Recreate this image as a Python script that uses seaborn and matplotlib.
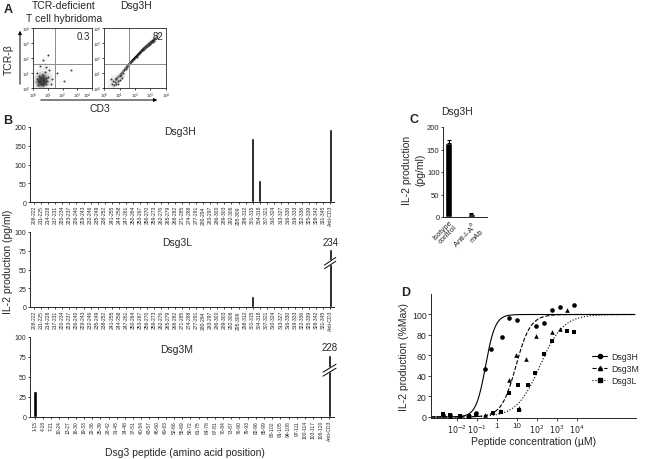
import numpy as np
import matplotlib
matplotlib.use("Agg")
import matplotlib.pyplot as plt
from matplotlib.lines import Line2D
import seaborn as sns

sns.set_style("ticks")
plt.rcParams["font.family"] = ["Liberation Sans", "DejaVu Sans"]
plt.rcParams["axes.linewidth"] = 0.7
plt.rcParams["xtick.major.width"] = 0.6
plt.rcParams["ytick.major.width"] = 0.6

# ---- panel A: flow cytometry (log10 units)
neg_x = [0.45, 0.55, 0.6, 0.65, 0.7, 0.5, 0.6, 0.75, 0.8, 0.4, 0.55, 0.65, 0.7, 0.6,
         0.5, 0.85, 0.95, 0.35, 0.6, 0.7, 1.1, 1.3, 0.3, 0.9, 1.6, 2.1, 0.5, 1.0,
         0.62, 0.58, 0.68, 0.52, 0.72, 0.66, 0.56, 0.48, 0.78, 0.62, 0.9, 0.25,
         1.2, 0.8, 0.4, 1.05, 2.6, 0.7]
neg_y = [0.35, 0.45, 0.3, 0.5, 0.4, 0.6, 0.7, 0.3, 0.55, 0.5, 0.25, 0.6, 0.2, 0.45,
         0.4, 0.7, 0.45, 0.2, 0.85, 0.9, 1.2, 0.6, 1.0, 1.4, 1.0, 0.5, 1.5, 2.2,
         0.42, 0.52, 0.48, 0.38, 0.58, 0.36, 0.62, 0.55, 0.42, 0.32, 0.3, 0.6,
         0.25, 1.1, 0.8, 0.75, 1.2, 1.9]
dsg_x = [0.5, 0.6, 0.7, 0.8, 0.9, 0.75, 0.65, 1.0, 1.1, 1.2, 1.3, 1.4, 1.5, 1.6, 1.7,
         1.8, 1.9, 2.0, 2.1, 2.2, 2.3, 2.4, 2.5, 2.6, 2.7, 2.8, 2.9, 3.0, 3.1, 3.15,
         3.2, 3.25, 2.6, 2.8, 3.0, 3.05, 0.9, 1.05, 0.45, 0.8, 1.15]
dsg_y = [0.3, 0.5, 0.4, 0.6, 0.5, 0.7, 0.2, 0.8, 0.9, 1.0, 1.2, 1.3, 1.4, 1.6, 1.7,
         1.8, 1.9, 2.0, 2.1, 2.2, 2.35, 2.45, 2.55, 2.6, 2.75, 2.85, 2.9, 3.0, 3.05, 3.1,
         3.15, 3.2, 2.7, 2.8, 2.95, 3.05, 0.3, 0.55, 0.6, 0.25, 0.7]
flow_pct = ["0.3", "82"]

# ---- panel B: IL-2 (pg/ml) per peptide
pep_h = ["208-222", "211-225", "214-228", "217-231", "220-234", "223-237", "226-240",
         "229-243", "232-246", "235-249", "238-252", "241-255", "244-258", "247-261",
         "250-264", "253-267", "256-270", "259-273", "262-276", "265-279", "268-282",
         "271-285", "274-288", "277-291", "280-294", "283-297", "286-300", "289-303",
         "292-306", "295-309", "298-312", "301-315", "304-318", "307-321", "310-324",
         "313-327", "316-330", "319-333", "322-336", "325-339", "328-342", "331-345",
         "Anti-CD3"]
dsg3h_il2 = [0, 0, 0, 0, 1.5, 0, 0, 0, 0, 0, 0, 0, 0, 1, 0, 0, 1, 0, 0, 0, 0, 0, 0, 0,
             0, 0, 0, 0, 0, 1, 3, 170, 60, 0, 0, 0, 0, 0, 0, 0, 0, 0, 195]
dsg3l_il2 = [0, 0, 0, 0, 0, 0, 0, 0, 1, 0, 0, 0, 0, 0, 0, 1, 0, 0, 0, 0, 1, 0, 0, 0,
             0.5, 0, 0, 0.5, 0, 0, 0, 15, 0.7, 0.5, 0, 0, 0.5, 0, 0, 0, 0, 0, 234]
pep_m = ["1-15", "4-18", "7-21", "10-24", "13-27", "16-30", "19-33", "22-36", "25-39",
         "28-42", "31-45", "34-48", "37-51", "40-54", "43-57", "46-60", "49-63", "52-66",
         "55-69", "58-72", "61-75", "64-78", "67-81", "70-84", "73-87", "76-90", "79-93",
         "82-96", "85-99", "88-102", "91-105", "94-108", "97-111", "100-114", "103-117",
         "106-120", "Anti-CD3"]
dsg3m_il2 = [32, 0, 0, 0, 0.5, 0, 0, 0, 0, 0, 0.5, 0, 0.5, 0, 0, 0, 0, 0, 0, 0, 0, 0, 0,
             0.5, 0, 0, 0, 0, 0, 0, 1, 0, 1, 0, 0, 0, 228]

# ---- panel C
c_labels = ["Isotype\ncontrol", "Anti-I-A$^b$\nmAb"]
c_values = [164, 7.5]
c_err = [8, 1]

# ---- panel D: dose response (log10 uM, %Max) and fitted EC50 / Hill slope
h_logc = [-2.7, -2.33, -1.83, -1.42, -1.03, -0.62, -0.28, 0.25, 0.62, 1.0, 1.97, 2.37, 2.75, 3.13, 3.87]
h_resp = [2, 2, 1, 1, 4, 47, 66, 78, 97, 95, 89, 92, 104, 107, 109]
m_logc = [-2.33, -1.42, -0.62, 0.17, 0.58, 0.97, 1.08, 1.47, 1.97, 2.75, 3.13, 3.5]
m_resp = [1, 1, 2, 6, 36, 60, 9, 57, 79, 83, 86, 104]
l_logc = [-2.7, -2.33, -1.83, -1.42, -1.03, -0.2, 0.2, 0.62, 1.03, 1.08, 1.53, 1.92, 2.33, 2.75, 3.5, 3.87]
l_resp = [3, 2, 1, 1, 2, 4, 5, 23, 31, 7, 31, 43, 61, 74, 84, 83]
fit_log_ec50 = {"Dsg3H": -0.57, "Dsg3M": 0.95, "Dsg3L": 2.15}
fit_hill = {"Dsg3H": 1.8, "Dsg3M": 1.2, "Dsg3L": 0.75}

W, H = 648, 460
fig = plt.figure(figsize=(W / 100, H / 100), dpi=100)


def box(l, t, r, b):
    return fig.add_axes([l / W, 1 - b / H, (r - l) / W, (b - t) / H])


def ftext(x, y, s, **kw):
    fig.text(x / W, 1 - y / H, s, **kw)


# ================= A
for k, (ax_box, xs, ys, gx, pct, bw) in enumerate([
    ((33, 29, 92, 89), neg_x, neg_y, 1.5, flow_pct[0], 1.0),
    ((104, 29, 166, 89), dsg_x, dsg_y, 1.6, flow_pct[1], 0.5),
]):
    ax = box(*ax_box)
    sns.kdeplot(x=xs, y=ys, fill=True, cmap="Greys", levels=10, thresh=0.03,
                bw_adjust=bw, ax=ax)
    sns.scatterplot(x=xs, y=ys, s=2, color="0.25", linewidth=0, ax=ax)
    ax.set_xlim(0, 4)
    ax.set_ylim(0, 4)
    ax.axvline(gx, color="0.55", lw=0.7)
    ax.axhline(1.6, color="0.55", lw=0.7)
    ax.set_xticks(range(5))
    ax.set_yticks(range(5))
    ax.set_xticklabels([f"$10^{i}$" for i in range(5)], fontsize=2.8)
    ax.set_yticklabels([f"$10^{i}$" for i in range(5)], fontsize=2.8)
    if k == 0:
        ax.get_xticklabels()[-1].set_horizontalalignment("right")
    ax.tick_params(length=1.2, pad=0.6)
    ax.set_xlabel("")
    ax.set_ylabel("")
    for sp in ax.spines.values():
        sp.set_linewidth(0.6)
    ax.text(0.96, 0.95, pct, transform=ax.transAxes, ha="right", va="top", fontsize=7)

ftext(64, 6, "TCR-deficient", ha="center", va="center", fontsize=7.5)
ftext(64, 19, "T cell hybridoma", ha="center", va="center", fontsize=7.5)
ftext(136, 6, "Dsg3H", ha="center", va="center", fontsize=7.5)
ftext(100, 109, "CD3", ha="center", va="center", fontsize=7.5)
ftext(9, 60, "TCR-β", ha="center", va="center", rotation=90, fontsize=7.5)
fig.add_artist(matplotlib.patches.FancyArrowPatch(
    (38 / W, 1 - 101 / H), (160 / W, 1 - 101 / H), transform=fig.transFigure,
    arrowstyle="-|>", mutation_scale=5, lw=0.7, color="k"))
fig.add_artist(matplotlib.patches.FancyArrowPatch(
    (20 / W, 1 - 88 / H), (20 / W, 1 - 29 / H), transform=fig.transFigure,
    arrowstyle="-|>", mutation_scale=5, lw=0.7, color="k"))


# ================= B
def peptide_panel(ax, labels, values, ymax, yticks, cap=None):
    shown = [min(v, cap) if cap else v for v in values]
    sns.barplot(x=labels, y=shown, color="black", width=0.45, saturation=1, ax=ax)
    n = len(labels)
    ax.set_xlim(-0.6, n - 0.45)
    ax.set_ylim(0, ymax)
    ax.set_yticks(yticks)
    ax.tick_params(axis="y", labelsize=5, length=1.5, pad=1)
    ax.tick_params(axis="x", labelsize=3.6, length=1.2, pad=1, rotation=90)
    sns.despine(ax=ax)
    if cap:
        i = n - 1
        yb = 0.56 * ymax
        dy = 0.05 * ymax
        ax.fill([i - 0.8, i + 0.8, i + 0.8, i - 0.8], [yb - dy, yb + dy, yb + 2 * dy, yb],
                color="white", zorder=5, clip_on=False)
        ax.plot([i - 0.8, i + 0.8], [yb - dy, yb + dy], color="k", lw=0.7, zorder=6, clip_on=False)
        ax.plot([i - 0.8, i + 0.8], [yb, yb + 2 * dy], color="k", lw=0.7, zorder=6, clip_on=False)
        ax.text(i, cap + 0.1 * ymax, f"{values[i]}", ha="center", va="center",
                fontsize=7, clip_on=False)


axb1 = box(30, 128, 334, 203)
peptide_panel(axb1, pep_h, dsg3h_il2, 200, [0, 50, 100, 150, 200])
axb2 = box(30, 233, 334, 308)
peptide_panel(axb2, pep_h, dsg3l_il2, 100, [0, 25, 50, 75, 100], cap=77)
axb3 = box(30, 338, 334, 418)
peptide_panel(axb3, pep_m, dsg3m_il2, 100, [0, 25, 50, 75, 100], cap=77)

ftext(180, 132, "Dsg3H", ha="center", va="center", fontsize=7.5)
ftext(177, 243, "Dsg3L", ha="center", va="center", fontsize=7.5)
ftext(177, 350, "Dsg3M", ha="center", va="center", fontsize=7.5)
ftext(8, 262, "IL-2 production (pg/ml)", ha="center", va="center", rotation=90, fontsize=7.5)
ftext(185, 453, "Dsg3 peptide (amino acid position)", ha="center", va="center", fontsize=7.5)

# ================= C
axc = box(443, 128, 487, 218)
sns.barplot(x=c_labels, y=c_values, color="black", width=0.3, saturation=1, ax=axc)
axc.errorbar(range(len(c_values)), c_values, yerr=[[0] * len(c_err), c_err], fmt="none",
             ecolor="k", capsize=1.5, elinewidth=0.8, capthick=0.8)
axc.set_xlim(-0.25, 1.7)
axc.set_ylim(0, 200)
axc.set_yticks([0, 50, 100, 150, 200])
axc.tick_params(axis="y", labelsize=5.5, length=1.5, pad=1)
axc.tick_params(axis="x", length=0, pad=1)
plt.setp(axc.get_xticklabels(), rotation=45, ha="right", rotation_mode="anchor",
         fontsize=5.5, linespacing=1.0)
sns.despine(ax=axc)
ftext(457, 112, "Dsg3H", ha="center", va="center", fontsize=7.5)
ftext(407, 170, "IL-2 production", ha="center", va="center", rotation=90, fontsize=7.5)
ftext(420, 170, "(pg/ml)", ha="center", va="center", rotation=90, fontsize=7.5)

# ================= D
axd = box(431, 295, 636, 419)
axd.set_xscale("log")
xs = np.logspace(-3.3, 6.9, 400)
handles = []
for name, logc, resp, ls, mk in [
    ("Dsg3H", h_logc, h_resp, "-", "o"),
    ("Dsg3M", m_logc, m_resp, "--", "^"),
    ("Dsg3L", l_logc, l_resp, ":", "s"),
]:
    conc = 10 ** np.array(logc)
    sns.scatterplot(x=conc, y=resp, marker=mk, color="k", s=11, linewidth=0, ax=axd, zorder=3)
    fit = 100 / (1 + (10 ** fit_log_ec50[name] / xs) ** fit_hill[name])
    axd.plot(xs, fit, color="k", ls=ls, lw=0.8)
    handles.append(Line2D([], [], color="k", ls=ls, lw=0.8, marker=mk, markersize=3))
axd.set_xlim(10 ** -3.3, 10 ** 6.95)
axd.set_ylim(-1, 120)
axd.set_yticks([0, 20, 40, 60, 80, 100])
axd.set_xticks([1e-2, 1e-1, 1, 10, 1e2, 1e3, 1e4])
axd.set_xticklabels(["$10^{-2}$", "$10^{-1}$", "1", "10", "$10^{2}$", "$10^{3}$", "$10^{4}$"])
axd.minorticks_off()
axd.tick_params(axis="y", labelsize=6.3, length=2, pad=1)
axd.tick_params(axis="x", labelsize=5.8, length=2, pad=1)
sns.despine(ax=axd)
axd.set_xlabel("Peptide concentration (µM)", fontsize=7.5, labelpad=1)
axd.set_ylabel("IL-2 production (%Max)", fontsize=7.5, labelpad=2)
fig.legend(handles, ["Dsg3H", "Dsg3M", "Dsg3L"], loc="upper left",
           bbox_to_anchor=(588 / W, 1 - 349 / H), frameon=False, fontsize=6.3,
           handlelength=1.7, labelspacing=0.35, handletextpad=0.4, borderpad=0)

# panel letters
for letter, x, y in [("A", 8, 10), ("B", 8, 121), ("C", 414, 120), ("D", 406, 293)]:
    ftext(x, y, letter, ha="center", va="center", fontsize=9, fontweight="bold")

fig.savefig("out.png", dpi=100)
